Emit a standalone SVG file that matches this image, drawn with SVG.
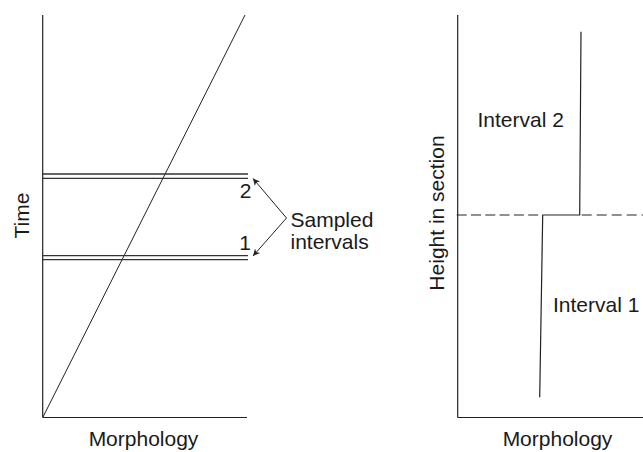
<svg xmlns="http://www.w3.org/2000/svg" width="643" height="452" viewBox="0 0 643 452">
<style>
  .ln{stroke:#222;stroke-width:1.2;fill:none}
  .thin{stroke:#222;stroke-width:1;fill:none}
  .dbl{stroke:#333;stroke-width:1.3;fill:none}
  .dash{stroke:#222;stroke-width:1.2;fill:none}
  text{font-family:"Liberation Sans",Arial,Helvetica,sans-serif;font-size:21px;fill:#1a1a1a}
</style>
<defs>
  <marker id="ah" viewBox="0 0 10 10" refX="10" refY="5" markerWidth="9" markerHeight="7" markerUnits="userSpaceOnUse" orient="auto">
    <path d="M0,0 L10,5 L0,10 L3,5 Z" fill="#222"/>
  </marker>
</defs>
<rect width="643" height="452" fill="#fff"/>

<g id="left-panel">
  <line class="ln" x1="42.7" y1="15" x2="42.7" y2="417.5"/>
  <line class="ln" x1="42.7" y1="417.5" x2="247" y2="417.5"/>
  <line class="thin" x1="43" y1="417" x2="245" y2="15"/>
  <text x="0" y="0" text-anchor="middle" transform="translate(28.5,215.5) rotate(-90)">Time</text>
  <text x="143.5" y="446" text-anchor="middle">Morphology</text>
</g>

<g id="interval2-lines">
  <line class="dbl" x1="43" y1="174" x2="248" y2="174"/>
  <line class="dbl" x1="43" y1="178.3" x2="248" y2="178.3"/>
  <text x="251.5" y="197.5" text-anchor="end">2</text>
</g>

<g id="interval1-lines">
  <line class="dbl" x1="43" y1="255.7" x2="248" y2="255.7"/>
  <line class="dbl" x1="43" y1="259.7" x2="248" y2="259.7"/>
  <text x="251" y="250" text-anchor="end">1</text>
</g>

<g id="sampled-label">
  <text x="290.5" y="226.7">Sampled</text>
  <text x="290.5" y="249.3">intervals</text>
</g>

<g id="connectors">
  <line class="thin" x1="286.5" y1="218" x2="253" y2="178.5" marker-end="url(#ah)"/>
  <line class="thin" x1="286.5" y1="218" x2="253" y2="256" marker-end="url(#ah)"/>
</g>

<g id="right-panel">
  <line class="ln" x1="457.7" y1="15" x2="457.7" y2="417.5"/>
  <line class="ln" x1="457.7" y1="417.5" x2="643" y2="417.5"/>
  <text x="0" y="0" text-anchor="middle" transform="translate(444,213) rotate(-90)">Height in section</text>
  <text x="557.5" y="446" text-anchor="middle">Morphology</text>
</g>

<g id="boundary">
  <line class="dash" x1="456.7" y1="215" x2="542" y2="215" stroke-dasharray="10 4.3"/>
  <line class="dash" x1="581.7" y1="215" x2="643" y2="215" stroke-dasharray="10 5"/>
</g>

<g id="interval2">
  <polyline class="ln" points="581,31.7 579.7,215 542.3,215"/>
  <text x="477.5" y="126.7">Interval 2</text>
</g>

<g id="interval1">
  <line class="ln" x1="542.7" y1="215" x2="539.7" y2="397.3"/>
  <text x="553" y="312.3">Interval 1</text>
</g>
</svg>
